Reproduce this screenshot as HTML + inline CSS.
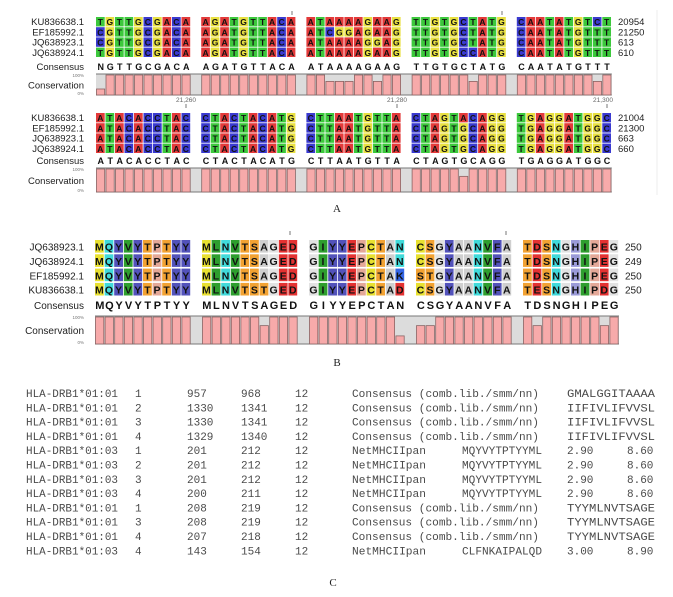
<!DOCTYPE html>
<html><head><meta charset="utf-8">
<style>
html,body{margin:0;padding:0;background:#fff;}
svg{display:block;}
</style></head>
<body>
<svg id="s" width="673" height="597" xmlns="http://www.w3.org/2000/svg" font-family="Liberation Sans, sans-serif"></svg>
<script>
const S=document.getElementById('s');
function el(t,a,txt){const e=document.createElementNS('http://www.w3.org/2000/svg',t);for(const k in a)e.setAttribute(k,a[k]);if(txt!==undefined)e.textContent=txt;S.appendChild(e);return e;}
const NC={A:'#e33a3a',C:'#3a3ad0',G:'#e8e040',T:'#3cc83c',N:'#ccc'};
const PC={M:'#e8e030',Q:'#40dada',Y:'#5252ba',V:'#2e9e2e',T:'#f2a232',P:'#e4a898',S:'#f2a232',A:'#cfcfcf',G:'#e2e2e2',E:'#e43232',D:'#e43232',L:'#2e9e2e',N:'#40dada',I:'#2e9e2e',C:'#e8e030',K:'#3466e6',H:'#9a9ad8',F:'#5252ba',R:'#3466e6',W:'#5252ba'};
function block(o){
  const {x0,y0,cw,ch,bs,rows,names,nums,cons,colors,fs,lblX,rowStep}=o;
  rows.forEach((r,ri)=>{
    const y=y0+ri*rowStep;
    el('text',{x:lblX,y:y+ch*0.8,'font-size':o.lfs,'text-anchor':'end',fill:'#222'},names[ri]);
    for(let i=0;i<50;i++){
      const b=Math.floor(i/10),j=i%10;
      const x=x0+b*bs+j*cw;
      el('rect',{x:x,y:y,width:cw-0.8,height:ch-0.8,fill:colors[r[i]]||'#fff'});
      el('text',{x:x+cw/2-0.4,y:y+ch*0.8,'font-size':fs,'font-weight':'bold','text-anchor':'middle',fill:'#111'},r[i]);
    }
    el('text',{x:o.numX,y:y+ch*0.8,'font-size':o.lfs,fill:'#222'},nums[ri]);
  });
  el('text',{x:lblX,y:o.consY+4,'font-size':o.lfs,'text-anchor':'end',fill:'#222'},'Consensus');
  for(let i=0;i<50;i++){
    const b=Math.floor(i/10),j=i%10;
    el('text',{x:x0+b*bs+j*cw+cw/2,y:o.consY+4,'font-size':fs+0.5,'font-weight':'bold','text-anchor':'middle',fill:'#111'},cons[i]);
  }
  const bx=x0,bw=x0+4*bs+10*cw-x0;
  el('rect',{x:bx,y:o.boxY,width:bw,height:o.boxH,fill:'#dcdcdc'});
  el('line',{x1:bx,y1:o.boxY,x2:bx+bw,y2:o.boxY,stroke:'#777','stroke-width':1});
  el('line',{x1:bx,y1:o.boxY+o.boxH,x2:bx+bw,y2:o.boxY+o.boxH,stroke:'#777','stroke-width':1});
  for(let i=0;i<50;i++){
    const b=Math.floor(i/10),j=i%10;
    const x=x0+b*bs+j*cw;
    let m=0;rows.forEach(r=>{if(r[i]===cons[i])m++;});
    const f=m>=rows.length?1:(m===3?0.68:0.3);
    const h=(o.boxH-1)*f;
    el('rect',{x:x+0.5,y:o.boxY+o.boxH-h,width:cw-1.3,height:h,fill:'#f7aaaa',stroke:'#8a6464','stroke-width':0.8});
  }
  el('text',{x:lblX,y:o.boxY+o.boxH/2+4,'font-size':o.lfs,'text-anchor':'end',fill:'#222'},'Conservation');
  el('text',{x:lblX,y:o.boxY+3,'font-size':4.5,'text-anchor':'end',fill:'#777'},'100%');
  el('text',{x:lblX,y:o.boxY+o.boxH,'font-size':4.5,'text-anchor':'end',fill:'#777'},'0%');
}
const j=a=>a.join('');
const A1=[j(['TGTTGCGACA','AGATGTTACA','ATAAAAGAAG','TTGTGCTATG','CAATATGTCT']),
 j(['CGTTGCGACA','AGATGTTACA','ATCGGAGAAG','TTGTGCTATG','CAATATGTTT']),
 j(['CGTTGCGACA','AGATGTTACA','ATAAAAGGAG','TTGTGCTATG','CAATATGTTT']),
 j(['TGTTGCGACA','AGATGTTACA','ATAAAAGAAG','TTGTGCCATG','CAATATGTTT'])];
const A1c=j(['NGTTGCGACA','AGATGTTACA','ATAAAAGAAG','TTGTGCTATG','CAATATGTTT']);
const namesA=['KU836638.1','EF185992.1','JQ638923.1','JQ638924.1'];
block({x0:96,y0:17,cw:9.5,ch:10.2,bs:105.2,rows:A1,names:namesA,nums:['20954','21250','613','610'],cons:A1c,colors:NC,fs:8.5,lfs:9.5,lblX:84,numX:618,consY:66,boxY:74,boxH:21,rowStep:10.2});
const A2=[j(['ATACACCTAC','CTACTACATG','CTTAATGTTA','CTAGTACAGG','TGAGGATGGC']),
 j(['ATACACCTAC','CTACTACATG','CTTAATGTTA','CTAGTGCAGG','TGAGGATGGC']),
 j(['ATACACCTAC','CTACTACATG','CTTAATGTTA','CTAGTGCAGG','TGAGGATGGC']),
 j(['ATACACCTAC','CTACTACATG','CTTAATGTTA','CTAGTGCAGG','TGAGGATGGC'])];
const A2c=j(['ATACACCTAC','CTACTACATG','CTTAATGTTA','CTAGTGCAGG','TGAGGATGGC']);
block({x0:96,y0:113,cw:9.5,ch:10.2,bs:105.2,rows:A2,names:namesA,nums:['21004','21300','663','660'],cons:A2c,colors:NC,fs:8.5,lfs:9.5,lblX:84,numX:618,consY:160,boxY:168,boxH:24,rowStep:10.2});
[[292,11],[502,11],[186,104],[397,104],[607,104]].forEach(t=>el('line',{x1:t[0],y1:t[1],x2:t[0],y2:t[1]+4,stroke:'#555','stroke-width':0.8}));
el('text',{x:186,y:102,'font-size':6.5,'text-anchor':'middle',fill:'#666'},'21,260');
el('text',{x:397,y:102,'font-size':6.5,'text-anchor':'middle',fill:'#666'},'21,280');
el('text',{x:603,y:102,'font-size':6.5,'text-anchor':'middle',fill:'#666'},'21,300');
el('line',{x1:657,y1:10,x2:657,y2:195,stroke:'#eee','stroke-width':1});
el('text',{x:337,y:212,'font-size':11,'text-anchor':'middle','font-family':'Liberation Serif, serif',fill:'#222'},'A');
const B=[j(['MQYVYTPTYY','MLNVTSAGED','GIYYEPCTAN','CSGYAANVFA','TDSNGHIPEG']),
 j(['MQYVYTPTYY','MLNVTSAGED','GIYYEPCTAN','CSGYAANVFA','TDSNGHIPEG']),
 j(['MQYVYTPTYY','MLNVTSAGED','GIYYEPCTAK','STGYAANVFA','TDSNGHIPEG']),
 j(['MQYVYTPTYY','MLNVTSTGED','GIYYEPCTAD','CSGYAANVFA','TESNGHIPDG'])];
const Bc=B[0];
block({x0:95,y0:240,cw:9.6,ch:13.4,bs:107,rows:B,names:['JQ638923.1','JQ638924.1','EF185992.1','KU836638.1'],nums:['250','249','250','250'],cons:Bc,colors:PC,fs:10.5,lfs:10,lblX:84,numX:625,consY:305,boxY:316,boxH:28,rowStep:14.3});
[[290,231],[506,231]].forEach(t=>el('line',{x1:t[0],y1:t[1],x2:t[0],y2:t[1]+4,stroke:'#555','stroke-width':0.8}));
el('text',{x:337,y:366,'font-size':11,'text-anchor':'middle','font-family':'Liberation Serif, serif',fill:'#222'},'B');
const C=[
['HLA-DRB1*01:01','1','957','968','12','Consensus (comb.lib./smm/nn)','GMALGGITAAAA','',''],
['HLA-DRB1*01:01','2','1330','1341','12','Consensus (comb.lib./smm/nn)','IIFIVLIFVVSL','',''],
['HLA-DRB1*01:01','3','1330','1341','12','Consensus (comb.lib./smm/nn)','IIFIVLIFVVSL','',''],
['HLA-DRB1*01:01','4','1329','1340','12','Consensus (comb.lib./smm/nn)','IIFIVLIFVVSL','',''],
['HLA-DRB1*01:03','1','201','212','12','NetMHCIIpan','MQYVYTPTYYML','2.90','8.60'],
['HLA-DRB1*01:03','2','201','212','12','NetMHCIIpan','MQYVYTPTYYML','2.90','8.60'],
['HLA-DRB1*01:03','3','201','212','12','NetMHCIIpan','MQYVYTPTYYML','2.90','8.60'],
['HLA-DRB1*01:03','4','200','211','12','NetMHCIIpan','MQYVYTPTYYML','2.90','8.60'],
['HLA-DRB1*01:01','1','208','219','12','Consensus (comb.lib./smm/nn)','TYYMLNVTSAGE','',''],
['HLA-DRB1*01:01','3','208','219','12','Consensus (comb.lib./smm/nn)','TYYMLNVTSAGE','',''],
['HLA-DRB1*01:01','4','207','218','12','Consensus (comb.lib./smm/nn)','TYYMLNVTSAGE','',''],
['HLA-DRB1*01:03','4','143','154','12','NetMHCIIpan','CLFNKAIPALQD','3.00','8.90']];
C.forEach((r,i)=>{
  const y=397+i*14.3;
  const net=r[5]==='NetMHCIIpan';
  const xs=[26,135,187,241,295,352, net?462:567, 567, 627];
  r.forEach((t,k)=>{
    if(!t) return;
    const a={x:xs[k],y:y,'font-size':11,'font-family':'Liberation Mono, monospace',fill:'#4a4a4a'};
    let L=null;
    if(k===0)L=92;
    else if(k===5&&!net)L=187;
    else if(k===5&&net)L=74;
    else if(k===6)L=net?80:88;
    if(L){a.textLength=L;a.lengthAdjust='spacingAndGlyphs';}
    el('text',a,t);
  });
});
el('text',{x:333,y:586,'font-size':11,'text-anchor':'middle','font-family':'Liberation Serif, serif',fill:'#222'},'C');
</script>
</body></html>
